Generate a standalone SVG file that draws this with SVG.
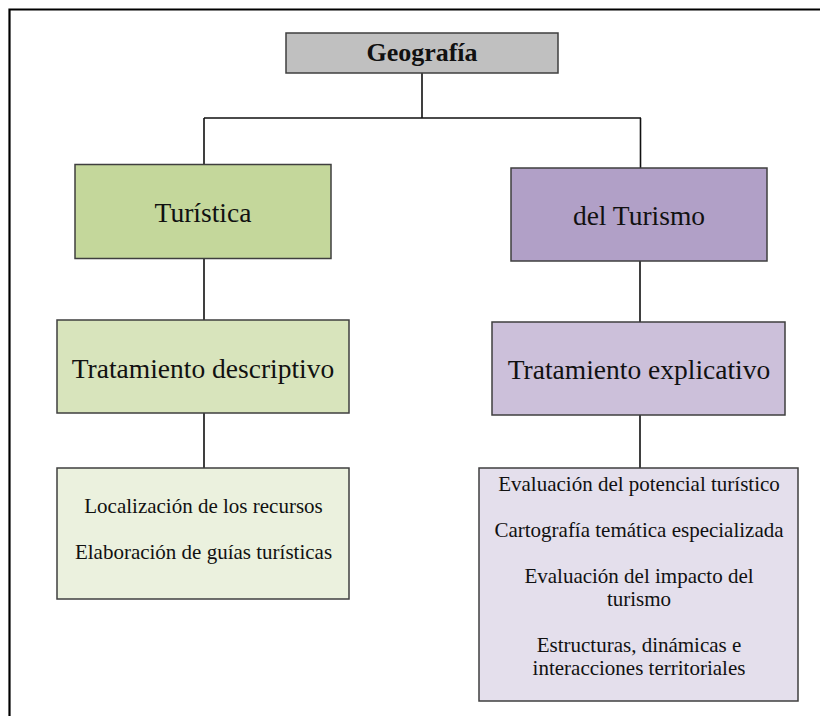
<svg xmlns="http://www.w3.org/2000/svg" width="820" height="716" viewBox="0 0 820 716">
<style>
.box{stroke:#3f3f3f;stroke-width:1.5}
.t{font-family:"Liberation Serif","Times New Roman",serif;fill:#111;text-anchor:middle}
.big{font-size:27.5px}
.sm{font-size:21px}
.con{stroke:#111;stroke-width:1.6;fill:none}
</style>
<rect width="820" height="716" fill="#ffffff"/>
<path d="M9.5 716 V9.5 H820" fill="none" stroke="#000" stroke-width="2.2"/>
<g id="connectors">
<path class="con" d="M422 73 V118 M204 118 H641 M204 118 V164.5 M640.5 118 V168 M204 258 V320 M640 261 V322 M204 413 V468 M640 415 V468"/>
</g>
<g id="geografia">
<rect class="box" x="286" y="33" width="272" height="40" fill="#c0c0c0"/>
<text class="t" x="422" y="61" font-size="26" font-weight="bold">Geografía</text>
</g>
<g id="turistica">
<rect class="box" x="75" y="164.5" width="256" height="94" fill="#c4d79b"/>
<text class="t big" x="203" y="222">Turística</text>
</g>
<g id="del-turismo">
<rect class="box" x="511" y="168" width="256" height="93" fill="#b1a0c7"/>
<text class="t big" x="639" y="225">del Turismo</text>
</g>
<g id="trat-descriptivo">
<rect class="box" x="57" y="320" width="292" height="93" fill="#d8e4bc"/>
<text class="t big" x="203" y="378">Tratamiento descriptivo</text>
</g>
<g id="trat-explicativo">
<rect class="box" x="492" y="322" width="293" height="93" fill="#ccc0da"/>
<text class="t big" x="639" y="379">Tratamiento explicativo</text>
</g>
<g id="desc-items">
<rect class="box" x="57" y="468" width="292" height="131" fill="#ebf1de"/>
<text class="t sm" x="203.5" y="513">Localización de los recursos</text>
<text class="t sm" x="203.5" y="559">Elaboración de guías turísticas</text>
</g>
<g id="expl-items">
<rect class="box" x="479" y="468" width="319" height="233" fill="#e4dfec"/>
<text class="t sm" x="639" y="491">Evaluación del potencial turístico</text>
<text class="t sm" x="639" y="537">Cartografía temática especializada</text>
<text class="t sm" x="639" y="583">Evaluación del impacto del</text>
<text class="t sm" x="639" y="606">turismo</text>
<text class="t sm" x="639" y="652">Estructuras, dinámicas e</text>
<text class="t sm" x="639" y="675">interacciones territoriales</text>
</g>
</svg>
